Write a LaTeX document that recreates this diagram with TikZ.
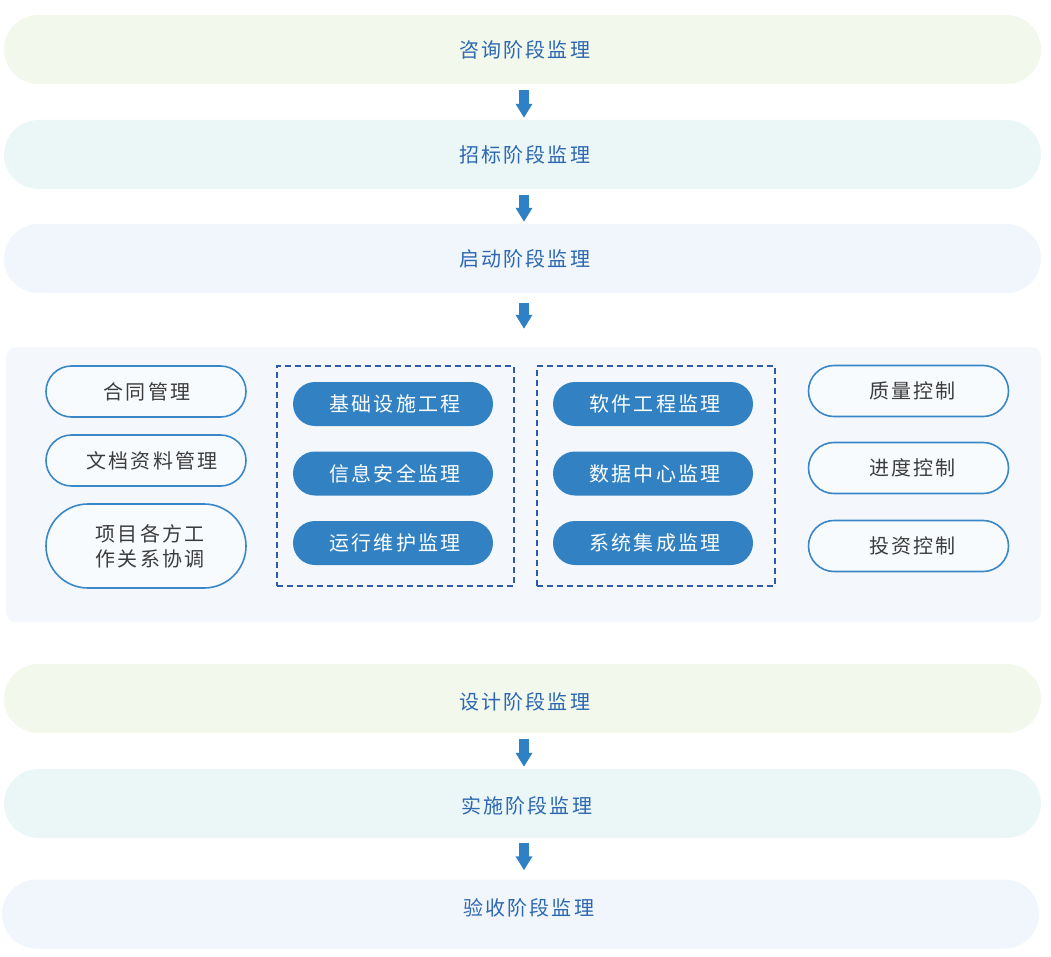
\documentclass[tikz,border=0pt]{standalone}
\usepackage{fontspec}
\setmainfont{Noto Sans CJK SC}
\newfontfamily\spacedcjk[LetterSpace=11]{Noto Sans CJK SC}
\usetikzlibrary{arrows.meta}
\definecolor{bargreen}{HTML}{F2F8EC}
\definecolor{barcyan}{HTML}{EBF7F7}
\definecolor{barblue}{HTML}{F0F6FB}
\definecolor{panelbg}{HTML}{F4F8FD}
\definecolor{outblue}{HTML}{3A87C8}
\definecolor{pillblue}{HTML}{3282C3}
\definecolor{dashblue}{HTML}{2E5BA8}
\definecolor{textblue}{HTML}{2D67B2}
\definecolor{textgray}{HTML}{3C3C3C}
\definecolor{arrowblue}{HTML}{2F80C4}
\tikzset{
  stagebar/.style={rectangle, rounded corners=34.5pt, minimum width=1037pt, minimum height=69pt,
    inner sep=0pt, text=textblue, font=\spacedcjk\fontsize{20}{25}\selectfont},
  bartext/.style={inner sep=0pt, text=textblue, font=\spacedcjk\fontsize{20}{25}\selectfont},
  outpill/.style={rectangle, rounded corners=25.5pt, draw=outblue, line width=1.6pt, fill=panelbg!60!white,
    minimum width=200pt, minimum height=51pt, inner sep=0pt, text=textgray, align=center,
    font=\spacedcjk\fontsize{20}{25}\selectfont},
  fillpill/.style={rectangle, rounded corners=22pt, fill=pillblue, minimum width=200pt, minimum height=44pt,
    inner sep=0pt, text=white, font=\spacedcjk\fontsize{20}{25}\selectfont},
  dashbox/.style={draw=dashblue, line width=1.5pt, dash pattern=on 6pt off 4pt, minimum width=237pt,
    minimum height=220pt, inner sep=0pt},
  flowarrow/.style={draw=arrowblue, line width=10pt, -{Triangle[width=16pt,length=14pt]}},
}
\begin{document}
\begin{tikzpicture}[x=1pt,y=-1pt]
\useasboundingbox (0,0) rectangle (1051,957);
% stage bars
\node[stagebar, fill=bargreen] (s1) at (522.5,49.5) {\hspace*{4pt}咨询阶段监理};
\node[stagebar, fill=barcyan] (s2) at (522.5,154.5) {\hspace*{4pt}招标阶段监理};
\node[stagebar, fill=barblue] (s3) at (522.5,258.5) {\hspace*{4pt}启动阶段监理};
% panel
\node[rectangle, rounded corners=10pt, fill=panelbg, minimum width=1035pt, minimum height=275pt, inner sep=0pt] (panel) at (523.5,484.5) {};
\node[stagebar, fill=bargreen] (s4) at (522.5,698.5) {};
\node[stagebar, fill=barcyan] (s5) at (522.5,803.5) {};
\node[stagebar, fill=barblue] (s6) at (520.5,914) {};
\node[bartext] (t4) at (524.5,702) {设计阶段监理};
\node[bartext] (t5) at (526.5,805.5) {实施阶段监理};
\node[bartext] (t6) at (528.5,907.5) {验收阶段监理};
% arrows
\draw[flowarrow, shorten <=6pt, shorten >=2pt] (s1.south -| 524,0) -- (s2.north -| 524,0);
\draw[flowarrow, shorten <=6pt, shorten >=2pt] (s2.south -| 524,0) -- (s3.north -| 524,0);
\draw[flowarrow, shorten <=10pt, shorten >=18pt] (s3.south -| 524,0) -- (panel.north -| 524,0);
\draw[flowarrow, shorten <=6pt, shorten >=2pt] (s4.south -| 524,0) -- (s5.north -| 524,0);
\draw[flowarrow, shorten <=5pt, shorten >=9pt] (s5.south -| 524,0) -- (s6.north -| 524,0);
% left column
\node[outpill] (l1) at (146,391.5) {\hspace*{2pt}合同管理};
\node[outpill] (l2) at (146,460.5) {\hspace*{12pt}文档资料管理};
\node[outpill, rounded corners=42pt, minimum height=84pt] (l3) at (146,546) {\hspace*{8pt}项目各方工\\\hspace*{8pt}作关系协调};
% dashed boxes
\node[dashbox] (d1) at (395.5,476) {};
\node[dashbox, minimum width=238pt] (d2) at (656,476) {};
\node[fillpill] (m1) at (393,404) {\hspace*{4pt}基础设施工程};
\node[fillpill] (m2) at (393,473.5) {\hspace*{4pt}信息安全监理};
\node[fillpill] (m3) at (393,543) {\hspace*{4pt}运行维护监理};
\node[fillpill] (n1) at (653,404) {\hspace*{4pt}软件工程监理};
\node[fillpill] (n2) at (653,473.5) {\hspace*{4pt}数据中心监理};
\node[fillpill] (n3) at (653,543) {\hspace*{4pt}系统集成监理};
% right column
\node[outpill] (r1) at (908.5,391) {\hspace*{8pt}质量控制};
\node[outpill] (r2) at (908.5,468) {\hspace*{8pt}进度控制};
\node[outpill] (r3) at (908.5,546) {\hspace*{8pt}投资控制};
\end{tikzpicture}
\end{document}
